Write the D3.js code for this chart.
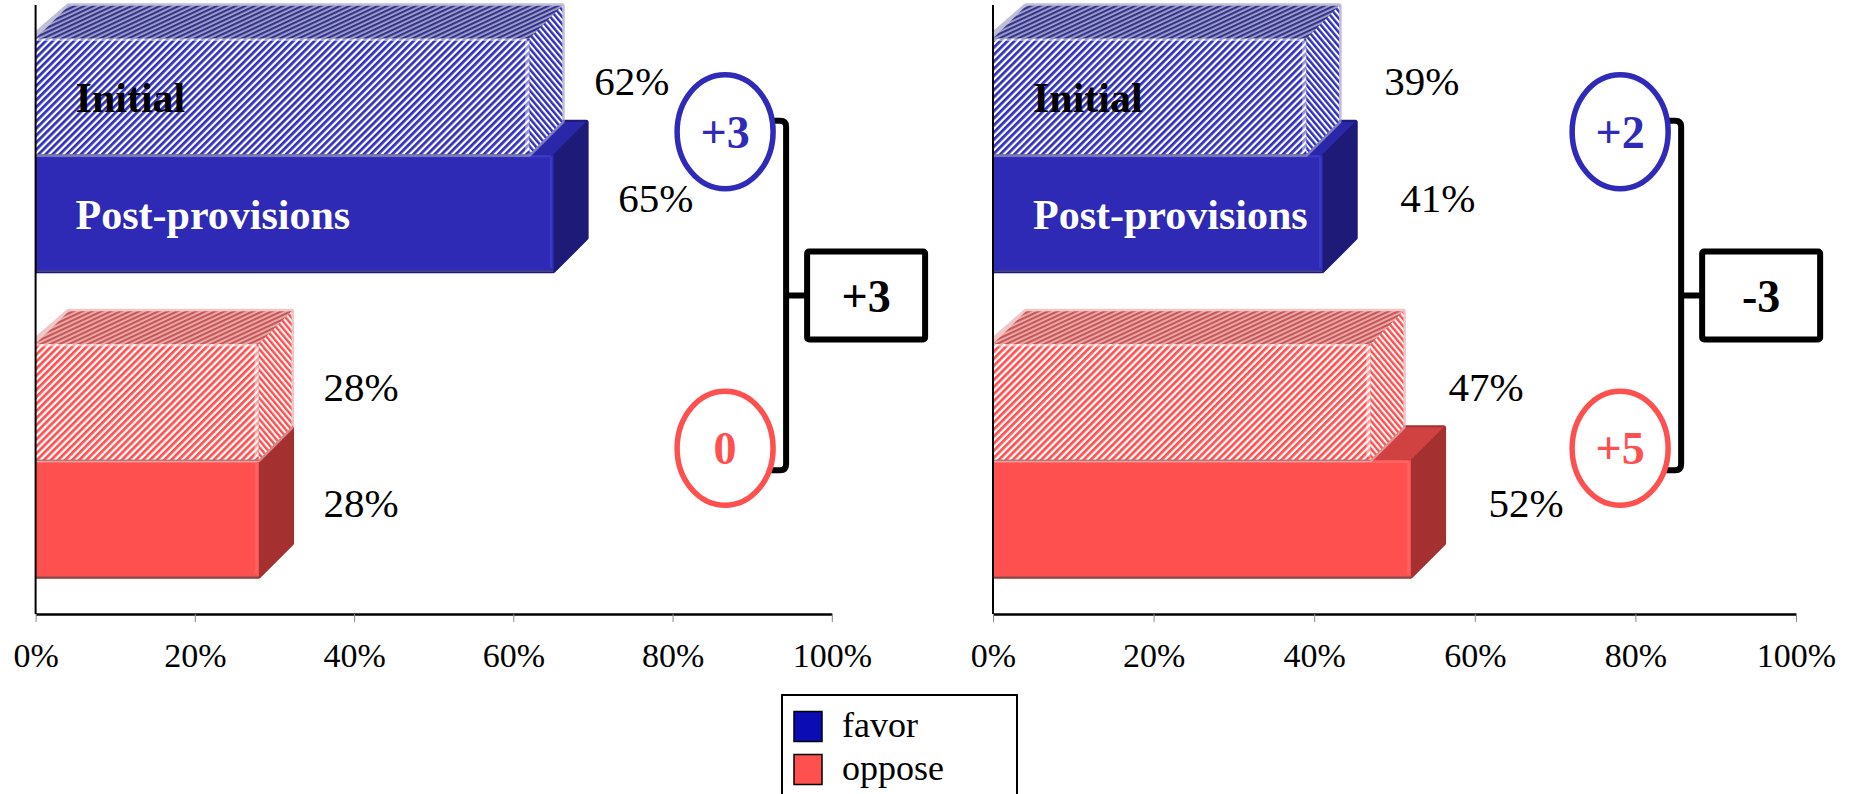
<!DOCTYPE html>
<html>
<head>
<meta charset="utf-8">
<script src="https://cdn.jsdelivr.net/npm/d3@7"></script>
<style>
  body { margin: 0; background: #ffffff; }
  svg { display: block; }
</style>
</head>
<body>
<svg id="chart" width="1856" height="794"></svg>
<script>
// ---------------- data ----------------
const categories = ["favor", "oppose"];
const stages = ["Initial", "Post-provisions"];
const leftFavor = [62, 65];
const leftOppose = [28, 28];
const rightFavor = [39, 41];
const rightOppose = [47, 52];
const tickValues = [0, 20, 40, 60, 80, 100];
const tickLabels = ["0%", "20%", "40%", "60%", "80%", "100%"];
const legendLabels = ["favor", "oppose"];

// ---------------- layout / style ----------------
const FONT = "'Liberation Serif','Times New Roman',Times,serif";
const svg = d3.select("#chart");
const defs = svg.append("defs");

const palette = {
  favor: { front: "#2E2AB5", top: "#2A27A8", side: "#1D1A78", hi: "#4B48D6",
           stripe: "#3030BE", stripeTop: "#34348E", stripeTopAlt: "#A4A4C8",
           mark: "#2F2BB8", legend: "#0C0CB4" },
  oppose: { front: "#FF5050", top: "#D04242", side: "#A53030", hi: "#FF7A7A",
            stripe: "#FF5050", stripeTop: "#C85656", stripeTopAlt: "#EAB0B0",
            mark: "#FF5050", legend: "#FF5050" }
};

function stripePattern(id, c1, c2, angle, size, frac) {
  const p = defs.append("pattern").attr("id", id)
    .attr("patternUnits", "userSpaceOnUse")
    .attr("width", size).attr("height", size)
    .attr("patternTransform", `rotate(${angle})`);
  p.append("rect").attr("width", size).attr("height", size).attr("fill", c2);
  p.append("rect").attr("width", size * frac).attr("height", size).attr("fill", c1);
}
categories.forEach(c => {
  const pc = palette[c];
  stripePattern(`front-${c}`, pc.stripe, "#ffffff", 45, 5, 0.55);
  stripePattern(`top-${c}`, pc.stripeTop, pc.stripeTopAlt, 65, 4, 0.55);
  stripePattern(`side-${c}`, pc.stripe, "#ffffff", -40, 4.5, 0.55);
});

const panels = [
  { values: { favor: leftFavor, oppose: leftOppose }, range: [35.6, 831.8], labelGap: 32, markValue: 86.6 },
  { values: { favor: rightFavor, oppose: rightOppose }, range: [993, 1796], labelGap: 45, markValue: 78.1 }
];

const yBand = d3.scaleBand().domain(categories).range([2, 613]).paddingInner(0.24).paddingOuter(0.12);
const yStage = d3.scaleBand().domain(stages).range([0, yBand.bandwidth()]).paddingInner(0.01);
const baseY = yBand.range()[1] + 1;
const depth = 33;
const fmtChange = d => d > 0 ? `+${d}` : `${d}`;
const line = d3.line();

panels.forEach((panel, pi) => {
  const x = d3.scaleLinear().domain([0, 100]).range(panel.range);
  const g = svg.append("g");
  defs.append("clipPath").attr("id", `clip-${pi}`)
    .append("rect").attr("x", x(0)).attr("y", 0).attr("width", 1000).attr("height", baseY);
  const barsG = g.append("g").attr("clip-path", `url(#clip-${pi})`);

  categories.forEach((cat, ci) => {
    const pc = palette[cat];
    const vals = panel.values[cat];
    [1, 0].forEach(si => {
      const stage = stages[si];
      const v = vals[si];
      const xL = x(0), xR = x(v);
      const yT = yBand(cat) + yStage(stage);
      const h = yStage.bandwidth();
      const striped = si === 0;
      const front = [[xL, yT], [xR, yT], [xR, yT + h], [xL, yT + h]];
      const top = [[xL, yT], [xL + depth, yT - depth], [xR + depth, yT - depth], [xR, yT]];
      const side = [[xR, yT], [xR + depth, yT - depth], [xR + depth, yT + h - depth], [xR, yT + h]];
      const bar = barsG.append("g");
      bar.append("path")
        .attr("d", line([[xL - 5, yT + h], [xL - 5, yT], [xL + depth, yT - depth], [xR + depth, yT - depth], [xR + depth, yT + h - depth], [xR, yT + h]]) + "Z")
        .attr("fill", striped ? pc.stripeTop : pc.side)
        .attr("stroke", striped ? pc.stripeTopAlt : pc.side)
        .attr("stroke-width", 5).attr("stroke-linejoin", "round").attr("opacity", striped ? 0.7 : 1);
      bar.append("path").attr("d", line(top) + "Z")
        .attr("fill", striped ? `url(#top-${cat})` : pc.top)
        .attr("stroke", striped ? "none" : pc.top).attr("stroke-width", 1);
      bar.append("path").attr("d", line(side) + "Z")
        .attr("fill", striped ? `url(#side-${cat})` : pc.side)
        .attr("stroke", striped ? "none" : pc.side).attr("stroke-width", 1);
      bar.append("path").attr("d", line(front) + "Z")
        .attr("fill", striped ? `url(#front-${cat})` : pc.front)
        .attr("stroke", striped ? "none" : pc.front).attr("stroke-width", 1);
      // bevel highlights
      bar.append("path").attr("d", line([[xL, yT + 1], [xR - 2, yT + 1]]))
        .attr("stroke", striped ? "#ffffff" : pc.hi).attr("stroke-width", 2.5).attr("opacity", 0.5);
      bar.append("path").attr("d", line([[xR - 2, yT + 2], [xR - 2, yT + h - 3]]))
        .attr("stroke", striped ? "#ffffff" : pc.hi).attr("stroke-width", striped ? 4 : 2.5).attr("opacity", striped ? 0.45 : 0.5);
      bar.append("path").attr("d", line([[xL, yT + h + 0.5], [xR, yT + h + 0.5]]))
        .attr("stroke", "#6a6a6a").attr("stroke-width", 1.5).attr("opacity", 0.5);

      if (ci === 0) {
        g.append("text").attr("x", xL + 40).attr("y", yT + h / 2).attr("dy", "0.38em")
          .attr("font-family", FONT).attr("font-weight", "bold").attr("font-size", 42)
          .attr("fill", si === 0 ? "#000000" : "#ffffff").text(stage);
      }
      g.append("text").attr("x", xR + depth + panel.labelGap).attr("y", yT + 42).attr("dy", "0.35em")
        .attr("font-family", FONT).attr("font-size", 41).attr("fill", "#000")
        .text(`${v}%`);
    });
  });

  // axes
  g.append("line").attr("x1", x(0)).attr("x2", x(0)).attr("y1", 5).attr("y2", baseY)
    .attr("stroke", "#000").attr("stroke-width", 2);
  const ax = g.append("g").attr("transform", `translate(0,${baseY})`)
    .call(d3.axisBottom(x).tickValues(tickValues).tickFormat((d, i) => tickLabels[i])
      .tickSize(8).tickSizeOuter(0).tickPadding(21));
  ax.attr("font-family", FONT);
  ax.select(".domain").attr("stroke", "#000").attr("stroke-width", 2.5);
  ax.selectAll(".tick line").attr("stroke", "#8a8a8a").attr("stroke-width", 1);
  ax.selectAll(".tick text").attr("font-family", FONT).attr("font-size", 34).attr("fill", "#000");

  // change annotations
  const fv = panel.values.favor, ov = panel.values.oppose;
  const favorChange = fv[1] - fv[0];
  const opposeChange = ov[1] - ov[0];
  const net = favorChange - opposeChange;
  const cx = x(panel.markValue);
  const rx = 48, ry = 57;
  const blueCy = yBand("favor") + yBand.bandwidth() / 2 - 23;
  const redCy = yBand("oppose") + yBand.bandwidth() / 2 - 12;
  const vx = cx + 61;
  const yTop = blueCy - 11, yBot = redCy + 22, yMid = (yTop + yBot) / 2;
  const r = 6;
  g.append("path")
    .attr("d", `M${cx + rx - 2},${yTop} H${vx - r} Q${vx},${yTop} ${vx},${yTop + r} V${yBot - r} Q${vx},${yBot} ${vx - r},${yBot} H${cx + rx - 2} M${vx},${yMid} H${vx + 22}`)
    .attr("fill", "none").attr("stroke", "#000").attr("stroke-width", 6);
  const boxW = 118, boxH = 88;
  g.append("rect").attr("x", vx + 21).attr("y", yMid - boxH / 2).attr("width", boxW).attr("height", boxH)
    .attr("rx", 2).attr("fill", "#fff").attr("stroke", "#000").attr("stroke-width", 6);
  g.append("text").attr("x", vx + 21 + boxW / 2).attr("y", yMid).attr("dy", "0.35em")
    .attr("text-anchor", "middle").attr("font-family", FONT).attr("font-weight", "bold")
    .attr("font-size", 46).attr("fill", "#000").text(fmtChange(net));

  [[blueCy, favorChange, palette.favor.mark], [redCy, opposeChange, palette.oppose.mark]].forEach(([cy, ch, col]) => {
    g.append("ellipse").attr("cx", cx).attr("cy", cy).attr("rx", rx).attr("ry", ry)
      .attr("fill", "none").attr("stroke", col).attr("stroke-width", 5.5);
    g.append("text").attr("x", cx).attr("y", cy).attr("dy", "0.35em").attr("text-anchor", "middle")
      .attr("font-family", FONT).attr("font-weight", "bold").attr("font-size", 46)
      .attr("fill", col).text(fmtChange(ch));
  });
});

// legend
const lg = svg.append("g");
lg.append("rect").attr("x", 782).attr("y", 695).attr("width", 235).attr("height", 130)
  .attr("fill", "#fff").attr("stroke", "#000").attr("stroke-width", 2);
const legendY = d3.scaleBand().domain(legendLabels).range([705, 791]);
legendLabels.forEach(lab => {
  const yy = legendY(lab) + legendY.bandwidth() / 2;
  lg.append("rect").attr("x", 794).attr("y", yy - 15).attr("width", 28).attr("height", 30)
    .attr("fill", palette[lab].legend).attr("stroke", "#000").attr("stroke-width", 1.5);
  lg.append("text").attr("x", 842).attr("y", yy).attr("dy", "0.3em")
    .attr("font-family", FONT).attr("font-size", 36).attr("fill", "#000").text(lab);
});
</script>
</body>
</html>
